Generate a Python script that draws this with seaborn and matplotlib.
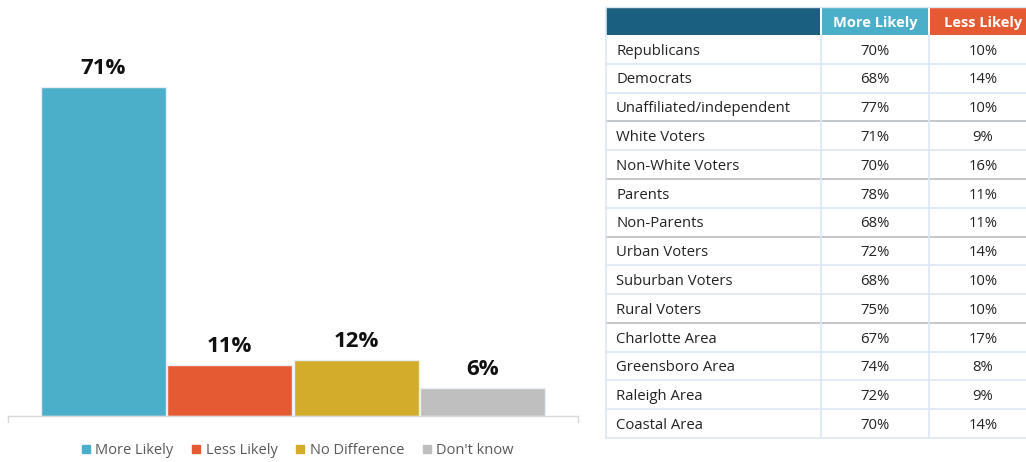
import matplotlib
matplotlib.use("Agg")
import matplotlib.pyplot as plt
from matplotlib.patches import Rectangle
from matplotlib.lines import Line2D
import seaborn as sns
import pandas as pd

# ---------------- data ----------------
categories = ["More Likely", "Less Likely", "No Difference", "Don't know"]
shares = [71, 11, 12, 6]
bar_colors = ["#4BAFC9", "#E55A33", "#D4AC2B", "#BFBFBF"]

table_cols = ["More Likely", "Less Likely"]
groups = ["Republicans", "Democrats", "Unaffiliated/independent", "White Voters",
          "Non-White Voters", "Parents", "Non-Parents", "Urban Voters",
          "Suburban Voters", "Rural Voters", "Charlotte Area", "Greensboro Area",
          "Raleigh Area", "Coastal Area"]
more_likely = [70, 68, 77, 71, 70, 78, 68, 72, 68, 75, 67, 74, 72, 70]
less_likely = [10, 14, 10, 9, 16, 11, 11, 14, 10, 10, 17, 8, 9, 14]
group_breaks = [3, 5, 7, 10]   # rows after which a section divider is drawn

sns.set_theme(style="white")
plt.rcParams["font.family"] = ["Open Sans", "DejaVu Sans"]

W, H = 1026, 462
fig = plt.figure(figsize=(W / 100, H / 100), dpi=100)
fig.patch.set_facecolor("white")

# ---------------- bar chart ----------------
ax_left, ax_right, ax_base, ax_top = 8, 578, 416, 20
ax = fig.add_axes([ax_left / W, (H - ax_base) / H,
                   (ax_right - ax_left) / W, (ax_base - ax_top) / H])
df = pd.DataFrame({"cat": categories, "val": shares})
sns.barplot(data=df, x="cat", y="val", hue="cat", palette=bar_colors,
            width=0.99, legend=False, ax=ax, edgecolor="#E8EEF4", linewidth=1.0,
            saturation=1)
px_per_unit = 329 / 71
ax.set_ylim(0, (ax_base - ax_top) / px_per_unit)
ax.set_xlim(-0.756, 3.756)
for i, v in enumerate(shares):
    ax.annotate(f"{v}%", (i, v), xytext=(0, 9.5), textcoords="offset points",
                ha="center", va="baseline", fontsize=16, fontweight="bold",
                color="#111111")
ax.set_xlabel("")
ax.set_ylabel("")
ax.set_xticks([])
ax.set_yticks([])
for s in ["top", "left", "right"]:
    ax.spines[s].set_visible(False)
ax.spines["bottom"].set_color("#D9D9D9")
ax.spines["bottom"].set_linewidth(1.0)
# end ticks of the category axis
for xe in ax.get_xlim():
    ax.plot([xe, xe], [0, -6 / px_per_unit], color="#D9D9D9", lw=1.0,
            clip_on=False)

handles = [Line2D([], [], marker="s", linestyle="", markersize=5.5,
                  markerfacecolor=c, markeredgecolor=c) for c in bar_colors]
fig.legend(handles, categories, loc="center",
           bbox_to_anchor=(296 / W, 1 - 451 / H),
           ncol=4, frameon=False, fontsize=10.5, handletextpad=0.15,
           columnspacing=1.05, labelcolor="#595959", handlelength=1.0)

# ---------------- table ----------------
tx0, tx1 = 600, 1040
tab = fig.add_axes([tx0 / W, 0, (tx1 - tx0) / W, 1])
tab.set_xlim(tx0, tx1)
tab.set_ylim(H, 0)
tab.axis("off")

col_x = [606, 821, 929, 1037]
head_top, head_bot = 7, 35
row_h = (438 - head_bot) / len(groups)
grid_c = "#DCE8F4"
txt_dy = 1.8

head_colors = ["#1A5E80", "#4BAFC9", "#E55A33"]
for j, c in enumerate(head_colors):
    x0 = col_x[j] + (1 if j else 0)
    x1 = col_x[j + 1] - 1
    tab.add_patch(Rectangle((x0, head_top), x1 - x0, head_bot - head_top,
                            facecolor=c, edgecolor="none"))
for j, name in enumerate(table_cols):
    tab.text((col_x[j + 1] + col_x[j + 2]) / 2, (head_top + head_bot) / 2 + 1.5,
             name, ha="center", va="center", color="white", fontsize=10.5,
             fontweight="bold")

y_end = head_bot + row_h * len(groups)
for i, (g, m, l) in enumerate(zip(groups, more_likely, less_likely)):
    yc = head_bot + row_h * (i + 0.5) + txt_dy
    tab.text(616, yc, g, ha="left", va="center", fontsize=10.7, color="#222222")
    tab.text((col_x[1] + col_x[2]) / 2, yc, f"{m}%", ha="center", va="center",
             fontsize=10.7, color="#222222")
    tab.text((col_x[2] + col_x[3]) / 2, yc, f"{l}%", ha="center", va="center",
             fontsize=10.7, color="#222222")

for i in range(1, len(groups) + 1):
    y = head_bot + row_h * i
    if i in group_breaks:
        tab.plot([col_x[0], col_x[-1]], [y, y], color="#C4C8CC", lw=1.4)
    else:
        tab.plot([col_x[0], col_x[-1]], [y, y], color=grid_c, lw=1.2)
for x in col_x[:3]:
    tab.plot([x, x], [head_bot, y_end], color=grid_c, lw=1.2)
tab.plot([col_x[0], col_x[0]], [head_top, head_bot], color=grid_c, lw=1.2)
tab.plot([col_x[0], col_x[-1]], [head_top, head_top], color=grid_c, lw=1.0)

fig.savefig("out.png", dpi=100, facecolor="white")
